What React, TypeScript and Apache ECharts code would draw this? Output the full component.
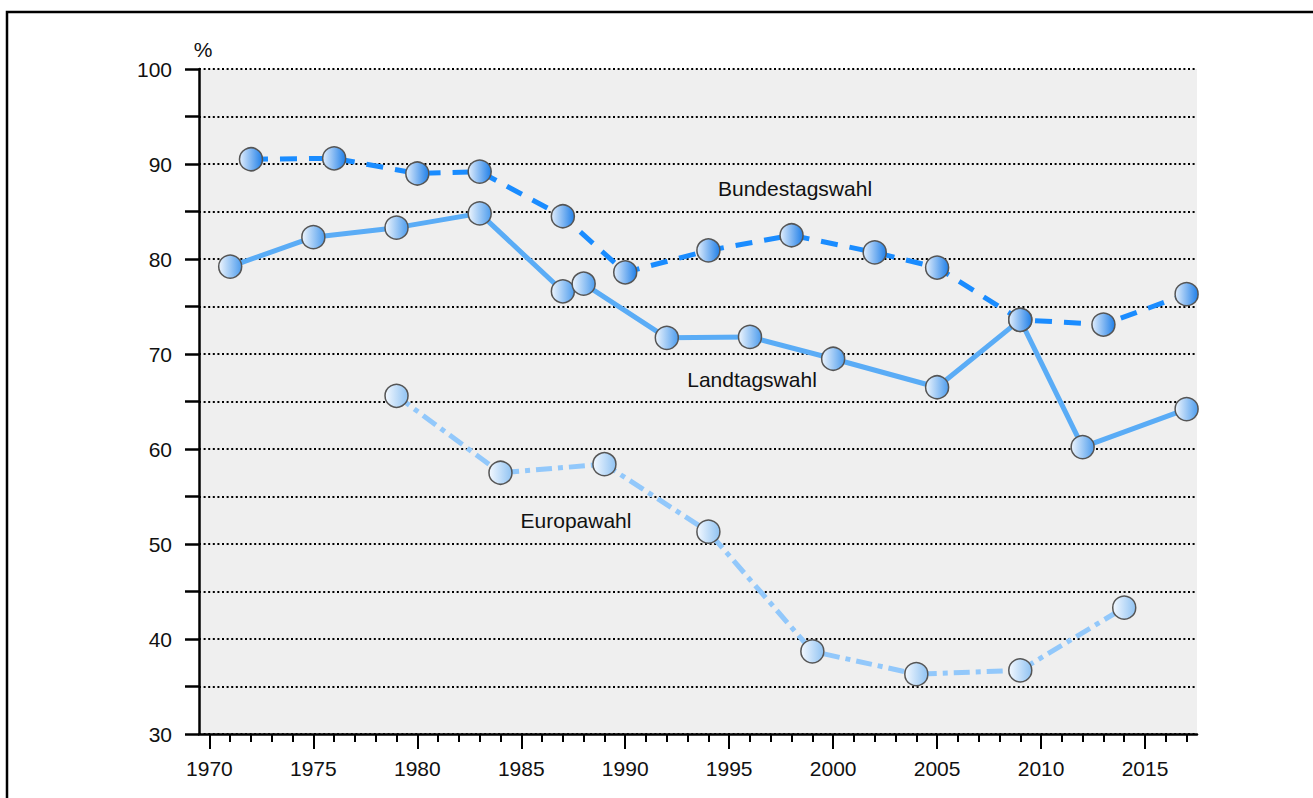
import React, { useEffect, useRef } from "react";
import * as echarts from "echarts";

const bundYears = [1972, 1976, 1980, 1983, 1987, 1990, 1994, 1998, 2002, 2005, 2009, 2013, 2017];
const bundValues = [90.5, 90.6, 89.0, 89.2, 84.5, 78.6, 80.9, 82.5, 80.7, 79.1, 73.6, 73.1, 76.3];
const landYears = [1971, 1975, 1979, 1983, 1987, 1988, 1992, 1996, 2000, 2005, 2009, 2012, 2017];
const landValues = [79.2, 82.3, 83.3, 84.8, 76.6, 77.4, 71.7, 71.8, 69.5, 66.5, 73.6, 60.2, 64.2];
const euroYears = [1979, 1984, 1989, 1994, 1999, 2004, 2009, 2014];
const euroValues = [65.6, 57.5, 58.4, 51.3, 38.7, 36.3, 36.7, 43.3];

const majorYears = [1970, 1975, 1980, 1985, 1990, 1995, 2000, 2005, 2010, 2015];
const allYears = [
  1970, 1971, 1972, 1973, 1974, 1975, 1976, 1977, 1978, 1979, 1980, 1981, 1982, 1983, 1984, 1985,
  1986, 1987, 1988, 1989, 1990, 1991, 1992, 1993, 1994, 1995, 1996, 1997, 1998, 1999, 2000, 2001,
  2002, 2003, 2004, 2005, 2006, 2007, 2008, 2009, 2010, 2011, 2012, 2013, 2014, 2015, 2016, 2017,
];

const FONT = '"Liberation Sans Narrow", "Arial Narrow", "Liberation Sans", Arial, sans-serif';

const grad = (a: string, b: string) =>
  new echarts.graphic.LinearGradient(0, 0, 1, 0, [
    { offset: 0, color: a },
    { offset: 1, color: b },
  ]);

const pairs = (xs: number[], ys: number[]) => xs.map((x, i) => [x, ys[i]]);

export default function App() {
  const ref = useRef<HTMLDivElement>(null);
  useEffect(() => {
    if (!ref.current) return;
    const chart = echarts.init(ref.current, undefined, { renderer: "svg" });
    chart.setOption({
      animation: false,
      backgroundColor: "#ffffff",
      grid: {
        left: 199,
        right: 116,
        top: 69,
        bottom: 64,
        show: true,
        backgroundColor: "#efefef",
        borderWidth: 0,
      },
      xAxis: [
        {
          type: "value",
          min: 1969.5,
          max: 2017.5,
          position: "bottom",
          axisLine: { show: true, onZero: false, lineStyle: { color: "#000", width: 2.5 } },
          axisTick: {
            show: true,
            customValues: majorYears,
            length: 15,
            lineStyle: { color: "#000", width: 2 },
          },
          axisLabel: {
            customValues: majorYears,
            margin: 24,
            color: "#111",
            fontSize: 21,
            fontFamily: FONT,
            formatter: (v: number) => String(v),
          },
          splitLine: { show: false },
        },
        {
          type: "value",
          min: 1969.5,
          max: 2017.5,
          position: "bottom",
          axisLine: { show: false, onZero: false },
          axisTick: {
            show: true,
            customValues: allYears,
            length: 8,
            lineStyle: { color: "#000", width: 2 },
          },
          axisLabel: { show: false },
          splitLine: { show: false },
        },
      ],
      yAxis: {
        type: "value",
        min: 30,
        max: 100,
        interval: 5,
        axisLine: { show: true, onZero: false, lineStyle: { color: "#000", width: 2.5 } },
        axisTick: { show: true, length: 14, lineStyle: { color: "#000", width: 2.5 } },
        axisLabel: {
          margin: 27,
          color: "#111",
          fontSize: 21,
          fontFamily: FONT,
          formatter: (v: number) => (v % 10 === 0 ? String(v) : ""),
        },
        splitLine: {
          show: true,
          lineStyle: { color: "#000", width: 2.2, type: [2, 2.6] },
        },
      },
      graphic: [
        {
          type: "rect",
          shape: { x: 7, y: 12, width: 1400, height: 900 },
          style: { fill: "none", stroke: "#000", lineWidth: 2.5 },
          silent: true,
          z: 100,
        },
        {
          type: "text",
          x: 203,
          y: 49,
          style: {
            text: "%",
            fontSize: 21,
            fontFamily: FONT,
            fill: "#111",
            align: "center",
            verticalAlign: "middle",
          },
        },
        {
          type: "text",
          x: 795,
          y: 188,
          style: {
            text: "Bundestagswahl",
            fontSize: 21,
            fontFamily: FONT,
            fill: "#111",
            align: "center",
            verticalAlign: "middle",
          },
        },
        {
          type: "text",
          x: 752,
          y: 379,
          style: {
            text: "Landtagswahl",
            fontSize: 21,
            fontFamily: FONT,
            fill: "#111",
            align: "center",
            verticalAlign: "middle",
          },
        },
        {
          type: "text",
          x: 576,
          y: 520,
          style: {
            text: "Europawahl",
            fontSize: 21,
            fontFamily: FONT,
            fill: "#111",
            align: "center",
            verticalAlign: "middle",
          },
        },
      ],
      series: [
        {
          name: "Europawahl",
          type: "line",
          xAxisIndex: 0,
          data: pairs(euroYears, euroValues),
          symbol: "circle",
          symbolSize: 23,
          lineStyle: { color: "#92c8fb", width: 5, type: [16, 6, 5, 6] },
          itemStyle: { color: grad("#f4f9ff", "#8fc2f2"), borderColor: "#555", borderWidth: 1.5 },
          z: 3,
        },
        {
          name: "Landtagswahl",
          type: "line",
          xAxisIndex: 0,
          data: pairs(landYears, landValues),
          symbol: "circle",
          symbolSize: 23,
          lineStyle: { color: "#5aacf6", width: 5, type: "solid" },
          itemStyle: { color: grad("#eef5fd", "#4d9ced"), borderColor: "#555", borderWidth: 1.5 },
          z: 4,
        },
        {
          name: "Bundestagswahl",
          type: "line",
          xAxisIndex: 0,
          data: pairs(bundYears, bundValues),
          symbol: "circle",
          symbolSize: 23,
          lineStyle: { color: "#1a8cff", width: 5, type: [17, 12] },
          itemStyle: { color: grad("#e2eefc", "#1f7fe8"), borderColor: "#555", borderWidth: 1.5 },
          z: 5,
        },
      ],
    });
    return () => chart.dispose();
  }, []);
  return (
    <div
      ref={ref}
      style={{ position: "absolute", left: 0, top: 0, width: 1313, height: 798 }}
    />
  );
}
